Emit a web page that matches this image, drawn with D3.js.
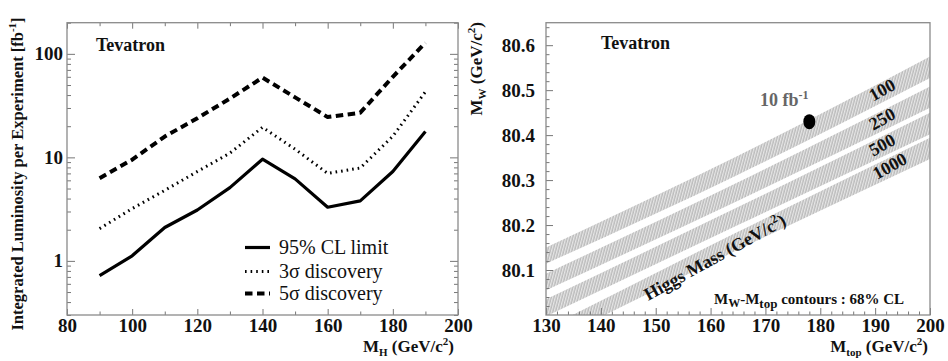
<!DOCTYPE html>
<html><head><meta charset="utf-8">
<script src="https://cdn.jsdelivr.net/npm/d3@7"></script>
<style>
html,body{margin:0;padding:0;background:#fff;}
</style></head>
<body><svg id="c" width="948" height="361"></svg>
<script>
// ---------- DATA ----------
const massH = [90,100,110,120,130,140,150,160,170,180,190];
const limit95 = [0.72,1.12,2.1,3.1,5.1,9.6,6.2,3.3,3.8,7.3,17.8];
const disc3sigma = [2.05,3.2,4.8,7.3,11,19.5,12,7.0,7.9,16,43];
const disc5sigma = [6.3,9.5,15.9,23.9,37,59,38,24.5,27,60,128];
const leftXTicks = [80,100,120,140,160,180,200];
const leftYTicks = [1,10,100];
const legendLabels = ["95% CL limit","3\u03c3 discovery","5\u03c3 discovery"];

const bandMtop = [130,165,200];
const band100Lo = [80.114,80.312,80.527];
const band100Hi = [80.150,80.354,80.575];
const band250Lo = [80.055,80.254,80.461];
const band250Hi = [80.092,80.295,80.508];
const band500Lo = [79.997,80.200,80.402];
const band500Hi = [80.035,80.240,80.450];
const band1000Lo = [79.935,80.145,80.347];
const band1000Hi = [79.970,80.185,80.394];
const bandLabels = ["100","250","500","1000"];
const rightXTicks = [130,140,150,160,170,180,190,200];
const rightYTicks = [80.1,80.2,80.3,80.4,80.5,80.6];
const pointMtop = 178, pointMW = 80.43;

// ---------- SETUP ----------
const FONT = '"Liberation Serif"';
const svg = d3.select("#c");
svg.append("rect").attr("width",948).attr("height",361).attr("fill","#fff");
const defs = svg.append("defs");
const pat = defs.append("pattern").attr("id","hatch").attr("patternUnits","userSpaceOnUse")
  .attr("width",2.6).attr("height",6).attr("patternTransform","rotate(15)");
pat.append("rect").attr("width",2.6).attr("height",6).attr("fill","#e6e6e6");
pat.append("line").attr("x1",1).attr("x2",1).attr("y1",0).attr("y2",6).attr("stroke","#ababab").attr("stroke-width",1);

const frameColor = "#8a8a8a";
const tickColor = "#777";

function styleAxis(g){
  g.attr("font-family",null).attr("font-size",null);
  g.select(".domain").remove();
  g.selectAll(".tick line").attr("stroke",tickColor).attr("stroke-width",1);
  g.selectAll(".tick text").style("font-weight","bold").style("font-size","19px").attr("fill","#111");
}

// ---------- LEFT PANEL ----------
const L = {x0:67,x1:458,y0:22.7,y1:315};
const xL = d3.scaleLinear([80,200],[L.x0,L.x1]);
const yL = d3.scaleLog([0.3,200],[L.y1,L.y0]);

const leftMinorX = d3.range(90,200,20);
svg.append("g").attr("transform",`translate(0,${L.y1})`)
  .call(d3.axisBottom(xL).tickValues(leftXTicks).tickSize(-6).tickPadding(4).tickFormat(d3.format("d"))).call(styleAxis);
svg.append("g").attr("transform",`translate(0,${L.y1})`)
  .call(d3.axisBottom(xL).tickValues(leftMinorX).tickSize(-3.5).tickFormat("")).call(styleAxis);
svg.append("g").attr("transform",`translate(0,${L.y0})`)
  .call(d3.axisTop(xL).tickValues(leftXTicks).tickSize(-6).tickFormat("")).call(styleAxis);
svg.append("g").attr("transform",`translate(0,${L.y0})`)
  .call(d3.axisTop(xL).tickValues(leftMinorX).tickSize(-3.5).tickFormat("")).call(styleAxis);

const logMinor = [];
[0.1,1,10,100].forEach(dec=>{for(let k=2;k<=9;k++){const v=dec*k; if(v>=0.3&&v<=200) logMinor.push(v);}});
svg.append("g").attr("transform",`translate(${L.x0},0)`)
  .call(d3.axisLeft(yL).tickValues(leftYTicks).tickSize(-8).tickPadding(4).tickFormat(d3.format("d"))).call(styleAxis);
svg.append("g").attr("transform",`translate(${L.x0},0)`)
  .call(d3.axisLeft(yL).tickValues(logMinor).tickSize(-4).tickFormat("")).call(styleAxis);
svg.append("g").attr("transform",`translate(${L.x1},0)`)
  .call(d3.axisRight(yL).tickValues(leftYTicks).tickSize(-8).tickFormat("")).call(styleAxis);
svg.append("g").attr("transform",`translate(${L.x1},0)`)
  .call(d3.axisRight(yL).tickValues(logMinor).tickSize(-4).tickFormat("")).call(styleAxis);

svg.append("rect").attr("x",L.x0).attr("y",L.y0).attr("width",L.x1-L.x0).attr("height",L.y1-L.y0)
  .attr("fill","none").attr("stroke",frameColor).attr("stroke-width",1.3);

const lineL = d3.line().x((d,i)=>xL(massH[i])).y(d=>yL(d));
const styles = [
  {data:limit95, w:3.2, dash:null},
  {data:disc3sigma, w:3, dash:"1.6,4"},
  {data:disc5sigma, w:4, dash:"7.5,4.5"}
];
styles.forEach(s=>{
  svg.append("path").attr("d",lineL(s.data)).attr("fill","none").attr("stroke","#000")
    .attr("stroke-width",s.w).attr("stroke-dasharray",s.dash).attr("stroke-linejoin","round");
});

// legend
const legY = [247.5,271.5,293.5];
styles.forEach((s,i)=>{
  svg.append("line").attr("x1",245).attr("x2",270).attr("y1",legY[i]).attr("y2",legY[i])
    .attr("stroke","#000").attr("stroke-width",s.w).attr("stroke-dasharray",s.dash);
  svg.append("text").attr("x",279).attr("y",legY[i]+6.5).style("font-size","20px").attr("fill","#111")
    .text(legendLabels[i]);
});

svg.append("text").attr("x",96).attr("y",51).style("font-size","18px").style("font-weight","bold").attr("fill","#111").text("Tevatron");

// axis titles
const yt = svg.append("text").attr("transform","translate(23,174) rotate(-90)").attr("text-anchor","middle")
  .style("font-size","16.5px").style("font-weight","bold").attr("fill","#111");
yt.append("tspan").text("Integrated Luminosity per Experiment [fb");
yt.append("tspan").style("font-size","11px").attr("dy",-7).text("-1");
yt.append("tspan").attr("dy",7).text("]");

function massTitle(x,y,sub,anchor,transform){
  const t = svg.append("text").attr("text-anchor",anchor).style("font-size","17px").style("font-weight","bold").attr("fill","#111");
  if(transform) t.attr("transform",transform); else t.attr("x",x).attr("y",y);
  t.append("tspan").text("M");
  t.append("tspan").style("font-size","11px").attr("dy",4).text(sub);
  t.append("tspan").attr("dy",-4).text(" (GeV/c");
  t.append("tspan").style("font-size","11px").attr("dy",-7).text("2");
  t.append("tspan").attr("dy",7).text(")");
  return t;
}
massTitle(454,352,"H","end");

// ---------- RIGHT PANEL ----------
const R = {x0:546,x1:930,y0:22.7,y1:315};
const xR = d3.scaleLinear([130,200],[R.x0,R.x1]);
const yR = d3.scaleLinear([80.0,80.65],[R.y1,R.y0]);

defs.append("clipPath").attr("id","clipR").append("rect")
  .attr("x",R.x0).attr("y",R.y0).attr("width",R.x1-R.x0).attr("height",R.y1-R.y0);

const bands = [[band100Lo,band100Hi],[band250Lo,band250Hi],[band500Lo,band500Hi],[band1000Lo,band1000Hi]];
const area = d3.area().x((d,i)=>xR(bandMtop[i])).y0(d=>yR(d[0])).y1(d=>yR(d[1])).curve(d3.curveMonotoneX);
const gb = svg.append("g").attr("clip-path","url(#clipR)");
bands.forEach(b=>{
  const pts = bandMtop.map((m,i)=>[b[0][i],b[1][i]]);
  gb.append("path").attr("d",area(pts)).attr("fill","url(#hatch)");
});

const rightMinorX = d3.range(130,200.1,2).filter(v=>v%10!==0);
const rightMinorY = d3.range(80.02,80.65,0.02).filter(v=>Math.abs(v*10-Math.round(v*10))>0.01);
svg.append("g").attr("transform",`translate(0,${R.y1})`)
  .call(d3.axisBottom(xR).tickValues(rightXTicks).tickSize(-7).tickPadding(4).tickFormat(d3.format("d"))).call(styleAxis);
svg.append("g").attr("transform",`translate(0,${R.y1})`)
  .call(d3.axisBottom(xR).tickValues(rightMinorX).tickSize(-3.5).tickFormat("")).call(styleAxis);
svg.append("g").attr("transform",`translate(${R.x0},0)`)
  .call(d3.axisLeft(yR).tickValues(rightYTicks).tickSize(-7).tickPadding(11).tickFormat(d3.format(".1f"))).call(styleAxis);
svg.append("g").attr("transform",`translate(${R.x0},0)`)
  .call(d3.axisLeft(yR).tickValues(rightMinorY).tickSize(-3.5).tickFormat("")).call(styleAxis);

svg.append("rect").attr("x",R.x0).attr("y",R.y0).attr("width",R.x1-R.x0).attr("height",R.y1-R.y0)
  .attr("fill","none").attr("stroke",frameColor).attr("stroke-width",1.3);

// band labels
const slopeAngle = -29;
const labelMtop = [191.8,191.8,191.8,193.2];
bands.forEach((b,i)=>{
  const m = labelMtop[i];
  const t = (m-bandMtop[1])/(bandMtop[2]-bandMtop[1]);
  const c = ((b[0][1]+b[1][1])/2)*(1-t) + ((b[0][2]+b[1][2])/2)*t;
  svg.append("text").attr("transform",`translate(${xR(m)},${yR(c)+5}) rotate(${slopeAngle})`)
    .attr("text-anchor","middle").style("font-size","18px").style("font-weight","bold").attr("fill","#111")
    .text(bandLabels[i]);
});

// higgs mass label
const hm = svg.append("text").attr("transform",`translate(${xR(161.3)},${yR(80.13)+6}) rotate(-29)`)
  .attr("text-anchor","middle").style("font-size","18px").style("font-weight","bold").attr("fill","#111");
hm.append("tspan").text("Higgs Mass (GeV/c");
hm.append("tspan").style("font-size","12px").attr("dy",-7).text("2");
hm.append("tspan").attr("dy",7).text(")");

// point
svg.append("ellipse").attr("cx",xR(pointMtop)).attr("cy",yR(pointMW)).attr("rx",6).attr("ry",7.5).attr("fill","#000");
const fb = svg.append("text").attr("x",760).attr("y",106).style("font-size","18px").style("font-weight","bold").attr("fill","#666");
fb.append("tspan").text("10 fb");
fb.append("tspan").style("font-size","12px").attr("dy",-7).text("-1");

svg.append("text").attr("x",601).attr("y",49).style("font-size","18px").style("font-weight","bold").attr("fill","#111").text("Tevatron");

// contour note
const cn = svg.append("text").attr("x",714).attr("y",304).style("font-size","15px").style("font-weight","bold").attr("fill","#111");
cn.append("tspan").text("M");
cn.append("tspan").style("font-size","12px").attr("dy",3).text("W");
cn.append("tspan").attr("dy",-3).text("-M");
cn.append("tspan").style("font-size","13px").attr("dy",4).text("top");
cn.append("tspan").attr("dy",-4).text(" contours : 68% CL");

// right axis titles
massTitle(0,0,"W","end","translate(482,22) rotate(-90)");
massTitle(928,352,"top","end");

// apply font to every text via inline style
svg.selectAll("text").style("font-family",FONT);
svg.selectAll("tspan").style("font-family",FONT);
</script></body></html>
